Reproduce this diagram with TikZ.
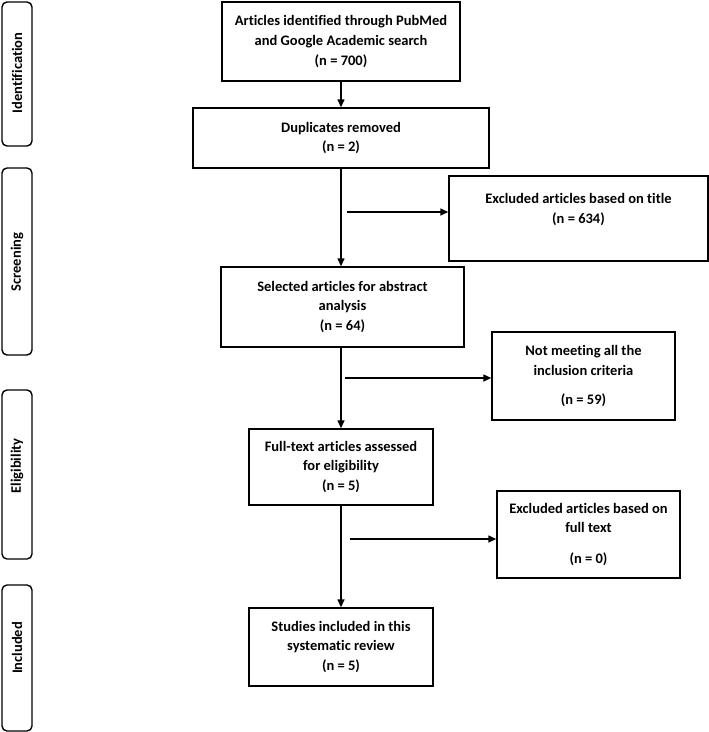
\documentclass[tikz,border=0pt]{standalone}
\usepackage{fontspec}
\setmainfont{Carlito}[Ligatures=NoCommon]
\usepackage{tikz}
\usetikzlibrary{arrows.meta}

\tikzset{
  flowbox/.style={draw, line width=1.4pt, align=center, inner sep=0pt,
    font=\fontsize{14.5}{19.8}\selectfont\bfseries},
  phasebar/.style={draw, line width=1.4pt, rounded corners=5pt, inner sep=0pt,
    minimum width=30pt},
  phaselabel/.style={rotate=90, inner sep=0pt,
    font=\fontsize{14.5}{16}\selectfont\bfseries},
  flowarrow/.style={line width=1.4pt, -{Triangle[length=8pt,width=7pt]}}
}

\begin{document}
\begin{tikzpicture}[x=1pt,y=-1pt]
            \useasboundingbox (0,0) rectangle (709,732);
            \node[phasebar, minimum height=144pt] (barident) at (17,74) {};
            \node[phasebar, minimum height=187pt] (barscreen) at (17,261.5) {};
            \node[phasebar, minimum height=169pt] (barelig) at (17,474.5) {};
            \node[phasebar, minimum height=146pt] (barincl) at (17,658) {};
            \node[phaselabel] (labident) at (17,73) {Identification};
            \node[phaselabel] (labscreen) at (17,262) {Screening};
            \node[phaselabel] (labelig) at (17,466) {Eligibility};
            \node[phaselabel] (labincl) at (17,648) {Included};

            \node[flowbox, minimum width=238pt, minimum height=79pt] (identified) at (341,41.5) {Articles identified through PubMed\\and Google Academic search\\(n = 700)};
            \node[flowbox, minimum width=296pt, minimum height=60pt] (duplicates) at (341,138) {Duplicates removed\\(n = 2)};
            \node[flowbox, minimum width=259pt, minimum height=85pt] (extitle) at (578.5,218.5) {Excluded articles based on title\\(n = 634)\\\mbox{}};
            \node[flowbox, minimum width=243pt, minimum height=80pt] (abstract) at (342.5,307) {Selected articles for abstract\\analysis\\(n = 64)};
            \node[flowbox, minimum width=183pt, minimum height=88pt] (excrit) at (583.5,376) {Not meeting all the\\inclusion criteria\\[9pt](n = 59)};
            \node[flowbox, minimum width=184pt, minimum height=76pt] (fulltext) at (341,467) {Full-text articles assessed\\for eligibility\\(n = 5)};
            \node[flowbox, minimum width=183pt, minimum height=87pt] (exfull) at (588.5,534.5) {Excluded articles based on\\full text\\[11pt](n = 0)};
            \node[flowbox, minimum width=184pt, minimum height=78pt] (included) at (341,647) {Studies included in this\\systematic review\\(n = 5)};

            \coordinate (split1) at (347,212);
            \coordinate (split2) at (345,378);
            \coordinate (split3) at (350,539);

            \draw[flowarrow] (identified) -- (duplicates);
            \draw[flowarrow] (duplicates.south) -- (duplicates.south |- abstract.north);
            \draw[flowarrow] (abstract.south -| duplicates.south) -- (fulltext);
            \draw[flowarrow] (fulltext) -- (included);
            \draw[flowarrow] (split1) -- (split1 -| extitle.west);
            \draw[flowarrow] (split2) -- (split2 -| excrit.west);
            \draw[flowarrow] (split3) -- (split3 -| exfull.west);
        \end{tikzpicture}
\end{document}
